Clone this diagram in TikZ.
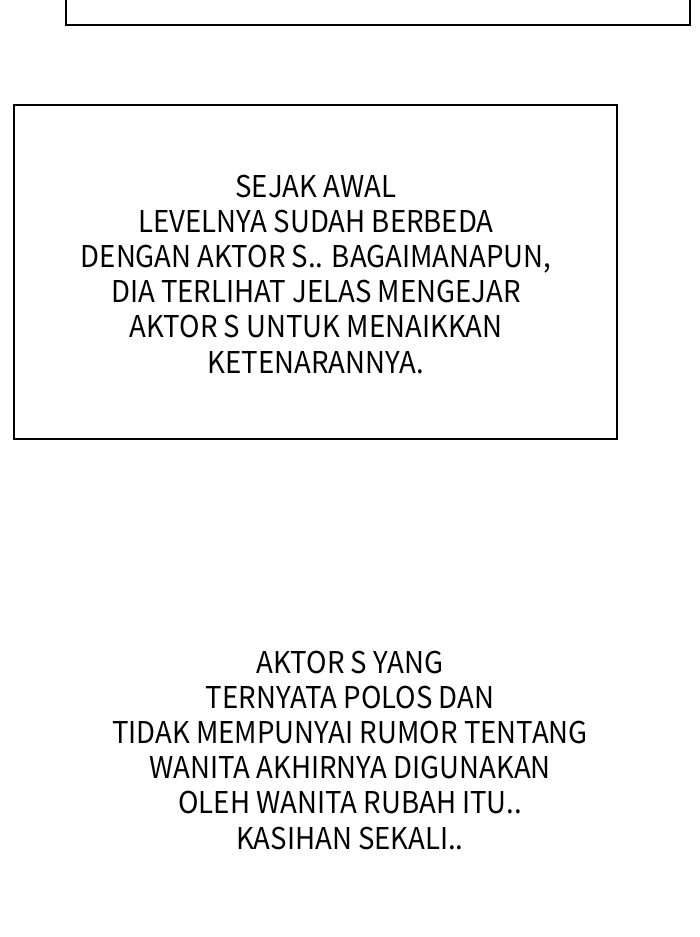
\documentclass[tikz,border=0pt]{standalone}
\usepackage{fontspec}
\setmainfont[FakeStretch=0.92]{Noto Sans CJK KR}
\begin{document}
\begin{tikzpicture}[x=1pt,y=-1pt,
  panel/.style={draw=black,line width=2pt},
  caption/.style={align=center,font=\fontsize{30}{35.2}\selectfont,inner sep=0pt,text=black}]
\useasboundingbox (0,0) rectangle (700,937);
\fill[white] (0,0) rectangle (700,937);
\draw[panel] (66,-5) -- (66,24.5) -- (690,24.5) -- (690,-5);
\node[panel,minimum width=603pt,minimum height=334pt,anchor=north west,inner sep=0pt] (box) at (13,104) {};
\node[caption] (t1) at (316,274) {SEJAK AWAL\\LEVELNYA SUDAH BERBEDA\\DENGAN AKTOR S.. BAGAIMANAPUN,\\DIA TERLIHAT JELAS MENGEJAR\\AKTOR S UNTUK MENAIKKAN\\KETENARANNYA.};
\node[caption] (t2) at (350,750) {AKTOR S YANG\\TERNYATA POLOS DAN\\TIDAK MEMPUNYAI RUMOR TENTANG\\WANITA AKHIRNYA DIGUNAKAN\\OLEH WANITA RUBAH ITU..\\KASIHAN SEKALI..};
\end{tikzpicture}
\end{document}
